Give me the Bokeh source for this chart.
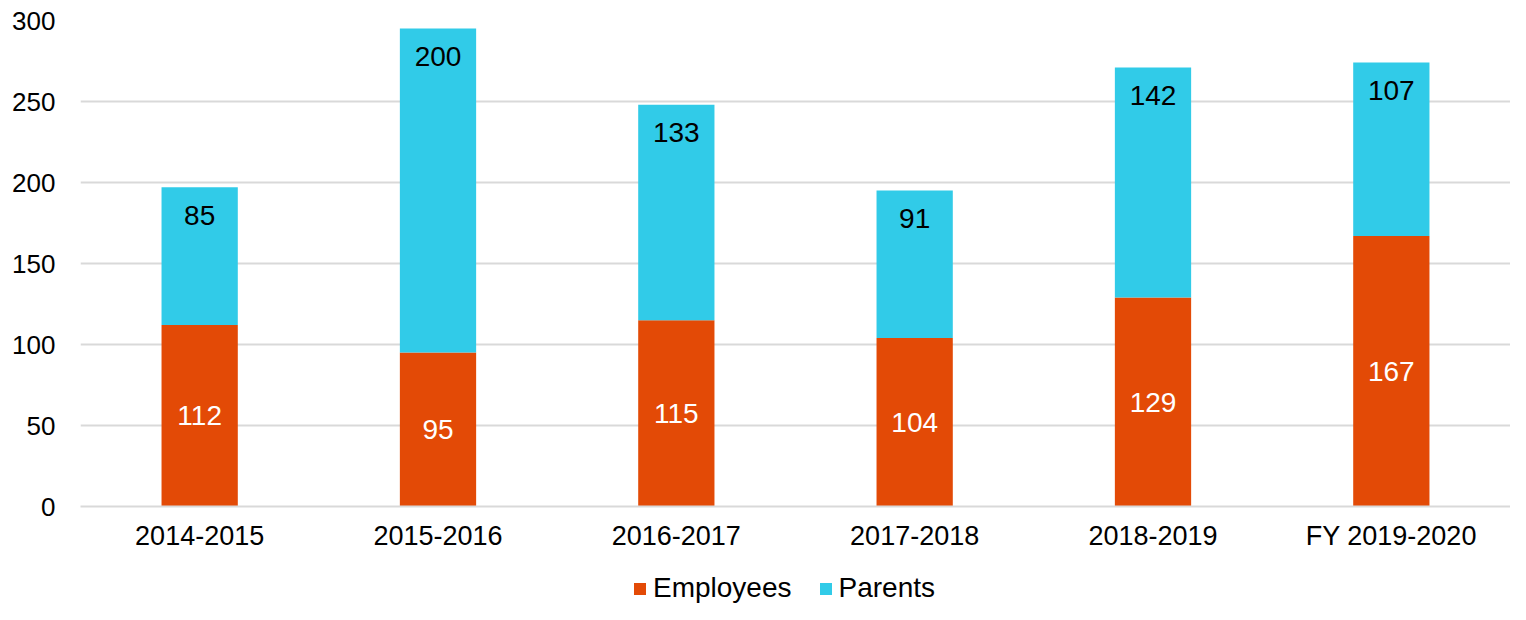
from bokeh.plotting import figure
from bokeh.layouts import column
from bokeh.models import ColumnDataSource, Legend, LegendItem, Range1d, FactorRange, FixedTicker
from bokeh.core.properties import value
from bokeh.embed import file_html
from bokeh.resources import INLINE

years = ["2014-2015", "2015-2016", "2016-2017", "2017-2018", "2018-2019", "FY 2019-2020"]
employees = [112, 95, 115, 104, 129, 167]
parents = [85, 200, 133, 91, 142, 107]
y_ticks = [0, 50, 100, 150, 200, 250, 300]
series = ["Employees", "Parents"]

FONT = "Liberation Sans"
EMP_COLOR = "#E34A06"
PAR_COLOR = "#31CBE8"
GRID = "#D9D9D9"

src = ColumnDataSource(dict(
    years=years,
    Employees=employees,
    Parents=parents,
    emp_mid=[e / 2 for e in employees],
    top=[e + q for e, q in zip(employees, parents)],
    emp_txt=[str(e) for e in employees],
    par_txt=[str(q) for q in parents],
))

W = 1510
H_MAIN = 560
H_LEG = 44
FRAME_BOTTOM = 506

p = figure(x_range=FactorRange(*years, range_padding=0), y_range=Range1d(0, 300),
           width=W, height=H_MAIN, output_backend="svg", toolbar_location=None,
           min_border_left=80, min_border_right=0, min_border_top=20,
           min_border_bottom=H_MAIN - FRAME_BOTTOM)
p.outline_line_color = None

rs = p.vbar_stack(series, x="years", width=0.32, source=src,
                  color=[EMP_COLOR, PAR_COLOR], line_color=None)

p.text(x="years", y="emp_mid", text="emp_txt", source=src, text_font=value(FONT),
       text_font_size="28px", text_align="center", text_baseline="middle", text_color="white")
p.text(x="years", y="top", text="par_txt", source=src, text_font=value(FONT),
       text_font_size="28px", text_align="center", text_baseline="middle", text_color="black",
       y_offset=28)

p.xgrid.grid_line_color = None
p.ygrid.grid_line_color = GRID
p.ygrid.grid_line_width = 2
p.yaxis.ticker = FixedTicker(ticks=y_ticks)

for ax in (p.xaxis, p.yaxis):
    ax.major_tick_line_color = None
    ax.minor_tick_line_color = None
    ax.major_label_text_font = FONT
    ax.major_label_text_color = "black"
p.yaxis.major_label_text_font_size = "26px"
p.xaxis.major_label_text_font_size = "27px"
p.yaxis.axis_line_color = None
p.yaxis.major_label_standoff = 19
p.xaxis.axis_line_color = GRID
p.xaxis.axis_line_width = 2
p.xaxis.major_label_standoff = 8

# legend strip below the chart (its frame is aligned with the chart frame)
p2 = figure(width=W, height=H_LEG, output_backend="svg", toolbar_location=None,
            x_axis_type=None, y_axis_type=None,
            x_range=Range1d(0, 1), y_range=Range1d(0, 1),
            min_border_left=0, min_border_right=0, min_border_top=0, min_border_bottom=0)
p2.outline_line_color = None
p2.grid.visible = False
# zero-height proxy bars: only their legend swatches are visible
proxy = ColumnDataSource(dict(x=[0.5], top=[0], bottom=[0]))
r_emp = p2.vbar(x="x", top="top", bottom="bottom", width=0.01, source=proxy,
                color=EMP_COLOR, line_color=None)
r_par = p2.vbar(x="x", top="top", bottom="bottom", width=0.01, source=proxy,
                color=PAR_COLOR, line_color=None)

legend = Legend(items=[LegendItem(label=series[0], renderers=[r_emp]),
                       LegendItem(label=series[1], renderers=[r_par])],
                orientation="horizontal", location=(552, 0),
                glyph_width=15, glyph_height=15, label_standoff=6, spacing=26,
                padding=0, margin=0, border_line_color=None, background_fill_alpha=0,
                label_text_font=FONT, label_text_font_size="28px", label_text_color="black")
p2.add_layout(legend, "center")

layout = column(p, p2, spacing=0)
open("out.html", "w").write(file_html(layout, INLINE))
